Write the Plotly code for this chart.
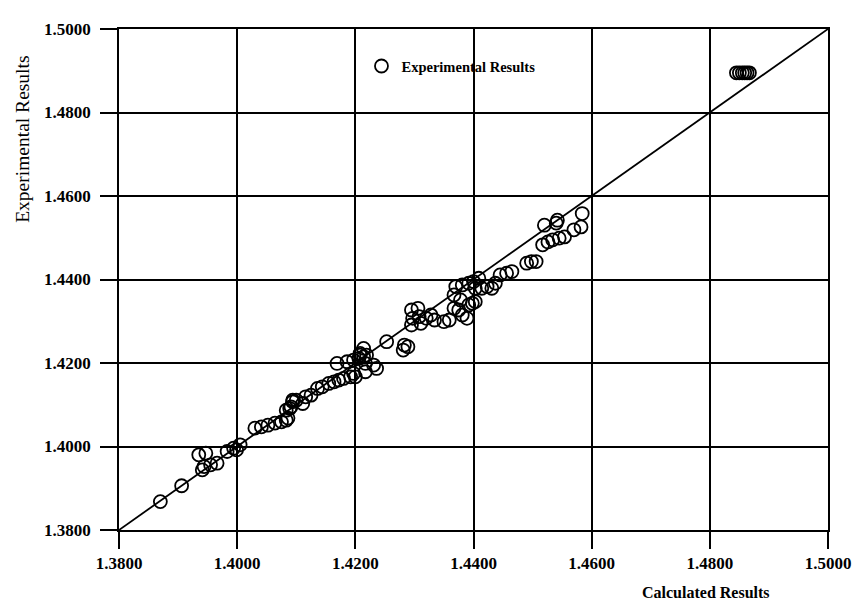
import plotly.graph_objects as go

calculated = [
    1.3870, 1.3906,
    1.3935, 1.3947, 1.3944, 1.3955, 1.3966, 1.3941,
    1.3983, 1.3994, 1.4005, 1.3999,
    1.4030, 1.4041, 1.4052, 1.4064, 1.4075, 1.4083,
    1.4091, 1.4094, 1.4089,
    1.4086, 1.4083, 1.4094, 1.4100, 1.4111, 1.4116, 1.4125, 1.4136, 1.4144,
    1.4155, 1.4164, 1.4172, 1.4180, 1.4192, 1.4200,
    1.4169, 1.4186, 1.4197, 1.4206, 1.4214, 1.4208, 1.4219, 1.4217, 1.4231,
    1.4236, 1.4217, 1.4197, 1.4208, 1.4214,
    1.4253, 1.4283, 1.4281, 1.4289,
    1.4295, 1.4306, 1.4297, 1.4308, 1.4320, 1.4295, 1.4311, 1.4328, 1.4334,
    1.4350, 1.4359, 1.4367, 1.4375, 1.4381, 1.4389, 1.4392, 1.4398, 1.4403, 1.4378,
    1.4370, 1.4381, 1.4392, 1.4400, 1.4409, 1.4403, 1.4414, 1.4423, 1.4431,
    1.4437, 1.4445, 1.4456, 1.4465, 1.4367,
    1.4490, 1.4498, 1.4506,
    1.4517, 1.4526, 1.4534, 1.4545, 1.4554, 1.4570, 1.4582, 1.4520, 1.4540,
    1.4542, 1.4584,
    1.4845, 1.4850, 1.4855, 1.4859, 1.4863, 1.4867,
]

experimental = [
    1.3868, 1.3906,
    1.3980, 1.3984, 1.3952, 1.3956, 1.3960, 1.3944,
    1.3988, 1.3996, 1.4004, 1.3992,
    1.4044, 1.4047, 1.4051, 1.4056, 1.4059, 1.4063,
    1.4095, 1.4111, 1.4091,
    1.4068, 1.4087, 1.4107, 1.4111, 1.4103, 1.4119, 1.4123, 1.4139, 1.4143,
    1.4151, 1.4155, 1.4159, 1.4163, 1.4167, 1.4167,
    1.4199, 1.4203, 1.4207, 1.4211, 1.4215, 1.4219, 1.4219, 1.4199, 1.4195,
    1.4187, 1.4179, 1.4175, 1.4223, 1.4235,
    1.4251, 1.4243, 1.4231, 1.4239,
    1.4327, 1.4331, 1.4307, 1.4311, 1.4307, 1.4291, 1.4295, 1.4315, 1.4303,
    1.4299, 1.4303, 1.4331, 1.4327, 1.4315, 1.4307, 1.4339, 1.4343, 1.4347, 1.4351,
    1.4383, 1.4387, 1.4391, 1.4395, 1.4403, 1.4379, 1.4379, 1.4383, 1.4379,
    1.4391, 1.4411, 1.4415, 1.4419, 1.4363,
    1.4439, 1.4443, 1.4443,
    1.4483, 1.4490, 1.4495, 1.4499, 1.4502, 1.4519, 1.4526, 1.4530, 1.4535,
    1.4542, 1.4558,
    1.4895, 1.4895, 1.4895, 1.4895, 1.4895, 1.4895,
]

ideal_line = [1.38, 1.50]
tick_values = [1.38, 1.40, 1.42, 1.44, 1.46, 1.48, 1.50]
tick_labels = ["1.3800", "1.4000", "1.4200", "1.4400", "1.4600", "1.4800", "1.5000"]

SERIF = "Liberation Serif"

fig = go.Figure()
fig.add_trace(go.Scatter(
    x=ideal_line, y=ideal_line, mode="lines",
    line=dict(color="black", width=1.8),
    showlegend=False, hoverinfo="skip",
))
fig.add_trace(go.Scatter(
    x=calculated, y=experimental, mode="markers",
    name="Experimental Results",
    marker=dict(symbol="circle-open", size=13, color="black",
                line=dict(width=1.8, color="black")),
))

axis_common = dict(
    tickmode="array", tickvals=tick_values, ticktext=tick_labels,
    showgrid=True, gridcolor="black", gridwidth=1.8,
    showline=True, linecolor="black", linewidth=1.8, mirror=True,
    ticks="outside", ticklen=17, tickwidth=1.8, tickcolor="black",
    zeroline=False,
    tickfont=dict(family=SERIF, size=17, color="black", weight="bold"),
)

fig.update_layout(
    width=863, height=601,
    margin=dict(l=119, r=26, t=29, b=71),
    paper_bgcolor="white", plot_bgcolor="white",
    xaxis=dict(range=[1.38, 1.50], **axis_common),
    yaxis=dict(range=[1.38, 1.50], ticklabelstandoff=6, **axis_common),
    showlegend=True,
    legend=dict(
        x=0.342, y=0.926, xanchor="left", yanchor="middle",
        bgcolor="rgba(0,0,0,0)",
        font=dict(family=SERIF, size=14.5, color="black", weight="bold"),
    ),
    annotations=[
        dict(text="Experimental Results", xref="paper", yref="paper",
             x=-0.136, y=0.78, xanchor="center", yanchor="middle",
             textangle=-90, showarrow=False,
             font=dict(family=SERIF, size=19.5, color="black")),
        dict(text="Calculated Results", xref="paper", yref="paper",
             x=0.828, y=-0.124, xanchor="center", yanchor="middle",
             showarrow=False,
             font=dict(family=SERIF, size=16, color="black", weight="bold")),
    ],
)

fig.write_html("out.html")
